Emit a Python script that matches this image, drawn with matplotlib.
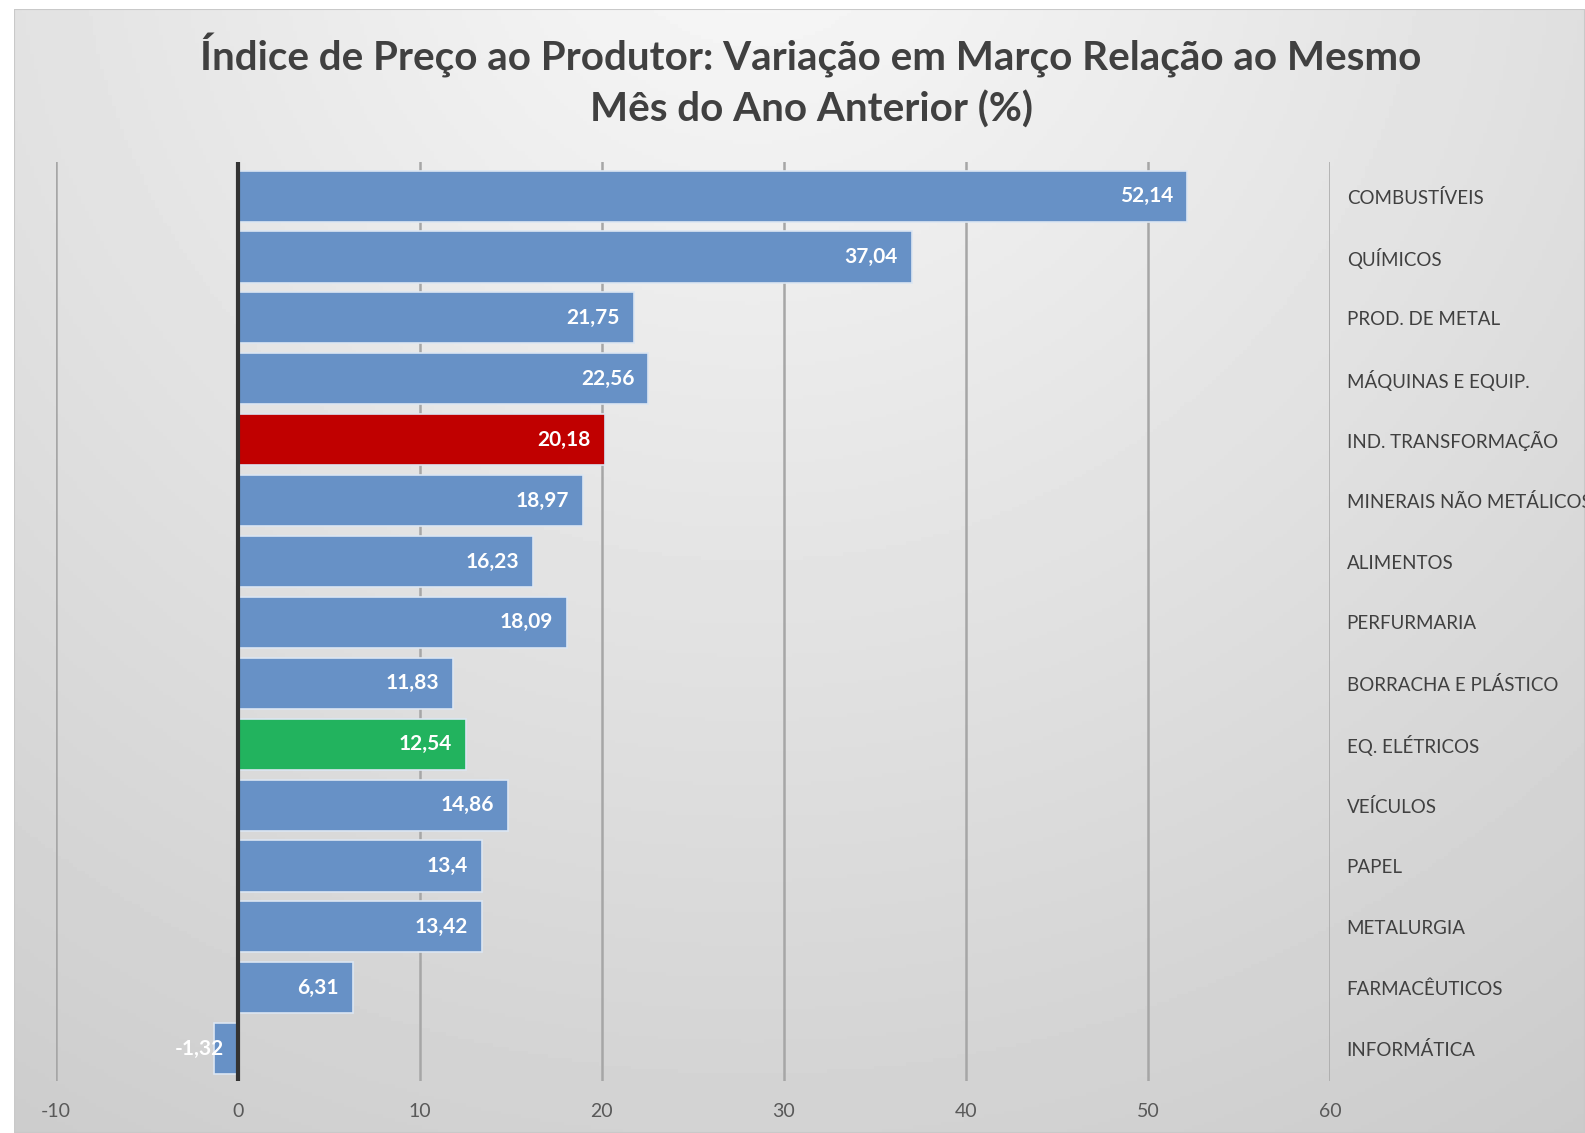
import matplotlib.pyplot as plt
import numpy as np

plt.rcParams['font.family'] = ['Lato', 'DejaVu Sans']

categorias = ['COMBUSTÍVEIS', 'QUÍMICOS', 'PROD. DE METAL', 'MÁQUINAS E EQUIP.',
              'IND. TRANSFORMAÇÃO', 'MINERAIS NÃO METÁLICOS', 'ALIMENTOS',
              'PERFURMARIA', 'BORRACHA E PLÁSTICO', 'EQ. ELÉTRICOS', 'VEÍCULOS',
              'PAPEL', 'METALURGIA', 'FARMACÊUTICOS', 'INFORMÁTICA']
valores = [52.14, 37.04, 21.75, 22.56, 20.18, 18.97, 16.23, 18.09,
           11.83, 12.54, 14.86, 13.4, 13.42, 6.31, -1.32]
rotulos = ['52,14', '37,04', '21,75', '22,56', '20,18', '18,97', '16,23', '18,09',
           '11,83', '12,54', '14,86', '13,4', '13,42', '6,31', '-1,32']
destaques = {'IND. TRANSFORMAÇÃO': '#C00000', 'EQ. ELÉTRICOS': '#22B35E'}
xticks = [-10, 0, 10, 20, 30, 40, 50, 60]

fig = plt.figure(figsize=(15.85, 11.33), dpi=100)

# background gradient (chart area)
bg = fig.add_axes([14 / 1585, 0, 1 - 14 / 1585, 1 - 9 / 1133])
xx, yy = np.meshgrid(np.linspace(0, 1, 400), np.linspace(0, 1, 300))
d = np.sqrt(((xx - 0.47) / 0.8) ** 2 + ((yy + 0.1) / 1.1) ** 2)
shade = np.clip(0.975 - 0.15 * d, 0, 1)
bg.imshow(shade, cmap='gray', vmin=0, vmax=1, aspect='auto', extent=[0, 1, 1, 0])
bg.set_axis_off()
bg.add_patch(plt.Rectangle((0, 0), 1, 1, transform=bg.transAxes, fill=False,
                           edgecolor='#c9c9c9', linewidth=1.5))

ax = fig.add_axes([55.6 / 1585, 52 / 1133, (1330 - 55.6) / 1585, (971 - 52) / 1133])
ax.set_facecolor('none')

y = np.arange(len(categorias))
cores = [destaques.get(c, '#6791C6') for c in categorias]
barras = ax.barh(y, valores, height=0.84, color=cores, edgecolor='#dce6f2',
                 linewidth=1.2, zorder=3)

for b, r in zip(barras, rotulos):
    xe = b.get_x() + b.get_width() if b.get_width() >= 0 else 0
    ax.annotate(r, (xe, b.get_y() + b.get_height() / 2), xytext=(-14, 0),
                textcoords='offset pixels', ha='right', va='center',
                color='white', fontsize=15, fontweight='bold', zorder=5)

ax.set_xlim(-10, 60)
ax.set_ylim(len(categorias) - 0.5 + 0.03, -0.5 - 0.06)
ax.set_xticks(xticks)
ax.set_xticklabels([str(t) for t in xticks])
ax.set_yticks(y)
ax.set_yticklabels(categorias)
ax.yaxis.tick_right()
ax.tick_params(axis='y', length=0, pad=12, labelsize=13.5, labelcolor='#404040')
ax.tick_params(axis='x', length=0, pad=16, labelsize=14, labelcolor='#595959')

ax.grid(axis='x', color='#a6a6a6', linewidth=1.8, zorder=0)
ax.axvline(0, color='#333333', linewidth=3, zorder=4)
for s in ax.spines.values():
    s.set_visible(False)

fig.text(811 / 1585, 1 - 81 / 1133,
         'Índice de Preço ao Produtor: Variação em Março Relação ao Mesmo\nMês do Ano Anterior (%)',
         ha='center', va='center', fontsize=29.1, fontweight='bold', color='#404040',
         linespacing=1.4)

fig.savefig('out.png', dpi=100)
